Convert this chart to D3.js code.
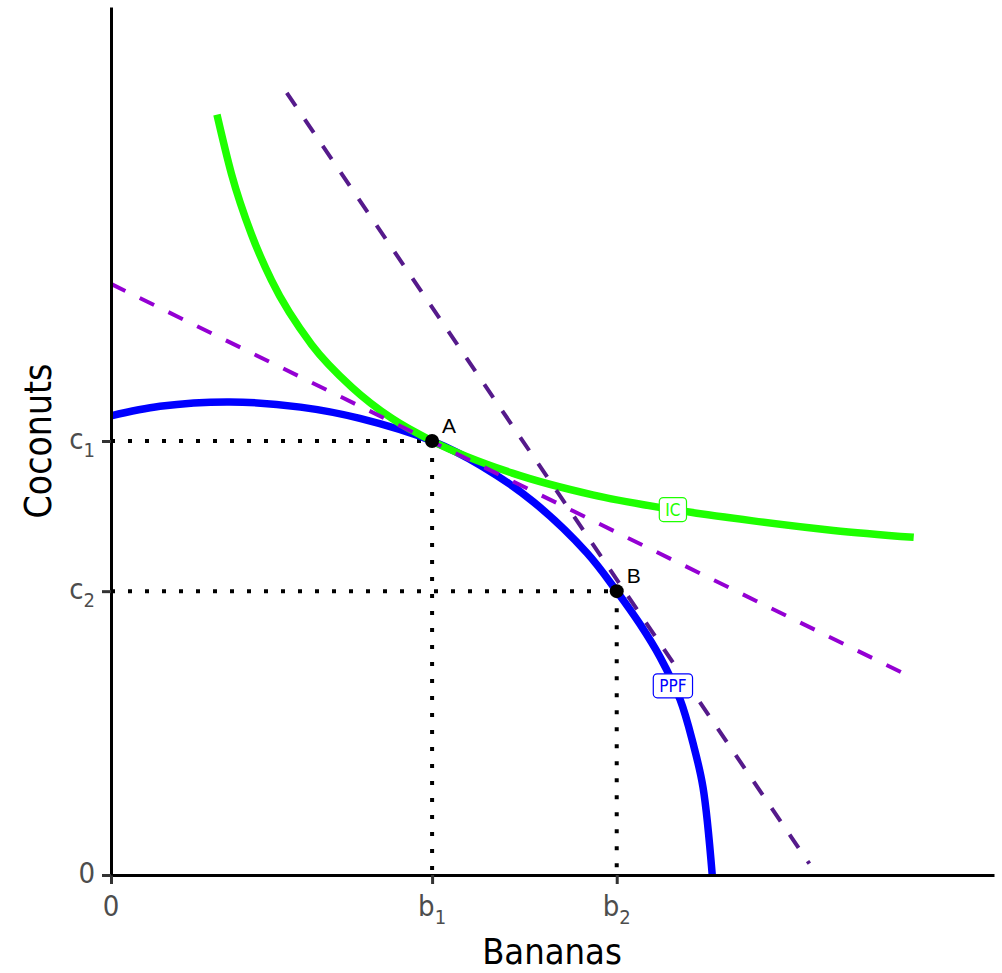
<!DOCTYPE html>
<html><head><meta charset="utf-8">
<script src="https://cdn.jsdelivr.net/npm/d3@7"></script>
<style>body{margin:0;background:#fff} svg{display:block}</style>
</head><body><svg id="chart" width="1002" height="973"></svg>
<script>
// ---- data ----
const ppfX = [0, 0.61, 1.48, 2.36, 3.10, 4.0, 4.62, 5.26, 5.93, 6.30, 6.59, 6.84, 7.09, 7.25, 7.375, 7.49];
const ppfY = [5.29, 5.40, 5.45, 5.39, 5.26, 5.0, 4.71, 4.30, 3.71, 3.27, 2.89, 2.51, 2.02, 1.52, 1.01, 0];
const icX = [1.32, 1.5, 1.75, 2.0, 2.5, 3.0, 3.5, 4.0, 5.0, 6.0, 7.0, 8.0, 9.0, 10.0];
const icY = [8.76, 8.08, 7.38, 6.85, 6.11, 5.62, 5.26, 5.00, 4.63, 4.38, 4.21, 4.08, 3.97, 3.89];
const tangentAX = [0, 9.99];
const tangentAY = [6.81, 2.27];
const tangentBX = [2.19, 8.70];
const tangentBY = [9.01, 0.13];
const pointNames = ["A", "B"];
const pointX = [4.0, 6.30];
const pointY = [5.0, 3.27];
const xTickValues = [0, 4.0, 6.30];
const xTickMain = ["0", "b", "b"];
const xTickSub = ["", "1", "2"];
const yTickValues = [0, 3.27, 5.0];
const yTickMain = ["0", "c", "c"];
const yTickSub = ["", "2", "1"];
const curveLabelText = ["IC", "PPF"];
const curveLabelX = [7.0, 7.0];
const curveLabelY = [4.21, 2.18];
const curveLabelColor = ["#1EFF00", "#0000FF"];

// ---- chart ----
const FONT = '"Liberation Sans Narrow", "DejaVu Sans Condensed", "Roboto", sans-serif';
const svg = d3.select("#chart");
const x = d3.scaleLinear().domain([0, 11]).range([111, 994]);
const y = d3.scaleLinear().domain([0, 10]).range([875, 7]);

const zip = (xs, ys) => xs.map((v, i) => [v, ys[i]]);
const line = d3.line().x(d => x(d[0])).y(d => y(d[1]));
const smoothPPF = d3.line().x(d => x(d[0])).y(d => y(d[1])).curve(d3.curveCatmullRom.alpha(0.5));
const smoothIC = d3.line().x(d => x(d[0])).y(d => y(d[1])).curve(d3.curveMonotoneX);

// dotted guides
const guides = svg.append("g").attr("fill", "none").attr("stroke", "#000")
  .attr("stroke-width", 4).attr("stroke-dasharray", "4,13");
pointX.forEach((px, i) => {
  guides.append("path").attr("d", line([[0, pointY[i]], [px, pointY[i]]]));
  guides.append("path").attr("d", line([[px, pointY[i]], [px, 0]]));
});

// PPF
svg.append("path").attr("d", smoothPPF(zip(ppfX, ppfY)))
  .attr("fill", "none").attr("stroke", "#0000FF").attr("stroke-width", 7.5);
// IC
svg.append("path").attr("d", smoothIC(zip(icX, icY)))
  .attr("fill", "none").attr("stroke", "#1EFF00").attr("stroke-width", 7.5);
// tangents
svg.append("path").attr("d", line(zip(tangentAX, tangentAY)))
  .attr("fill", "none").attr("stroke", "#9400D3").attr("stroke-width", 4).attr("stroke-dasharray", "16,16");
svg.append("path").attr("d", line(zip(tangentBX, tangentBY)))
  .attr("fill", "none").attr("stroke", "#551A8B").attr("stroke-width", 4).attr("stroke-dasharray", "16,16");

// axes
const xAxis = svg.append("g").attr("transform", "translate(0,875)")
  .call(d3.axisBottom(x).tickValues(xTickValues).tickSize(9).tickSizeOuter(0).tickFormat(""));
const yAxis = svg.append("g").attr("transform", "translate(111,0)")
  .call(d3.axisLeft(y).tickValues(yTickValues).tickSize(9).tickSizeOuter(0).tickFormat(""));
[xAxis, yAxis].forEach(g => {
  g.select(".domain").attr("stroke", "#000").attr("stroke-width", 3);
  g.selectAll(".tick line").attr("stroke", "#333").attr("stroke-width", 3);
});
// x tick labels
xTickValues.forEach((v, i) => {
  const t = svg.append("text").attr("x", x(v)).attr("y", 916).attr("text-anchor", "middle")
    .attr("font-family", FONT).attr("font-size", 29).attr("fill", "#4D4D4D");
  t.append("tspan").text(xTickMain[i]);
  if (xTickSub[i]) t.append("tspan").attr("font-size", 20).attr("dy", 8).text(xTickSub[i]);
});
// y tick labels
yTickValues.forEach((v, i) => {
  const t = svg.append("text").attr("x", 95).attr("y", y(v) + 8).attr("text-anchor", "end")
    .attr("font-family", FONT).attr("font-size", 29).attr("fill", "#4D4D4D");
  t.append("tspan").text(yTickMain[i]);
  if (yTickSub[i]) t.append("tspan").attr("font-size", 20).attr("dy", 8).text(yTickSub[i]);
});

// axis titles
svg.append("text").attr("x", 552).attr("y", 964).attr("text-anchor", "middle")
  .attr("font-family", FONT).attr("font-size", 36).attr("fill", "#000").text("Bananas");
svg.append("text").attr("transform", "translate(51,441) rotate(-90)").attr("text-anchor", "middle")
  .attr("font-family", FONT).attr("font-size", 37).attr("fill", "#000").text("Coconuts");

// points
pointX.forEach((px, i) => {
  svg.append("circle").attr("cx", x(px)).attr("cy", y(pointY[i])).attr("r", 7).attr("fill", "#000");
  svg.append("text").attr("x", x(px) + 10).attr("y", y(pointY[i]) - 8)
    .attr("font-family", '"Liberation Sans", Arial, sans-serif').attr("font-size", 21)
    .attr("fill", "#000").text(pointNames[i]);
});

// curve labels
curveLabelText.forEach((s, i) => {
  const g = svg.append("g").attr("transform", `translate(${x(curveLabelX[i])},${y(curveLabelY[i])})`);
  const rect = g.append("rect").attr("fill", "#fff").attr("stroke", curveLabelColor[i])
    .attr("stroke-width", 1.2).attr("rx", 4);
  const t = g.append("text").attr("text-anchor", "middle").attr("y", 6)
    .attr("font-family", FONT).attr("font-size", 17).attr("fill", curveLabelColor[i]).text(s);
  const bb = t.node().getBBox();
  rect.attr("x", bb.x - 6).attr("y", -12).attr("width", bb.width + 12).attr("height", 24);
});
</script></body></html>
